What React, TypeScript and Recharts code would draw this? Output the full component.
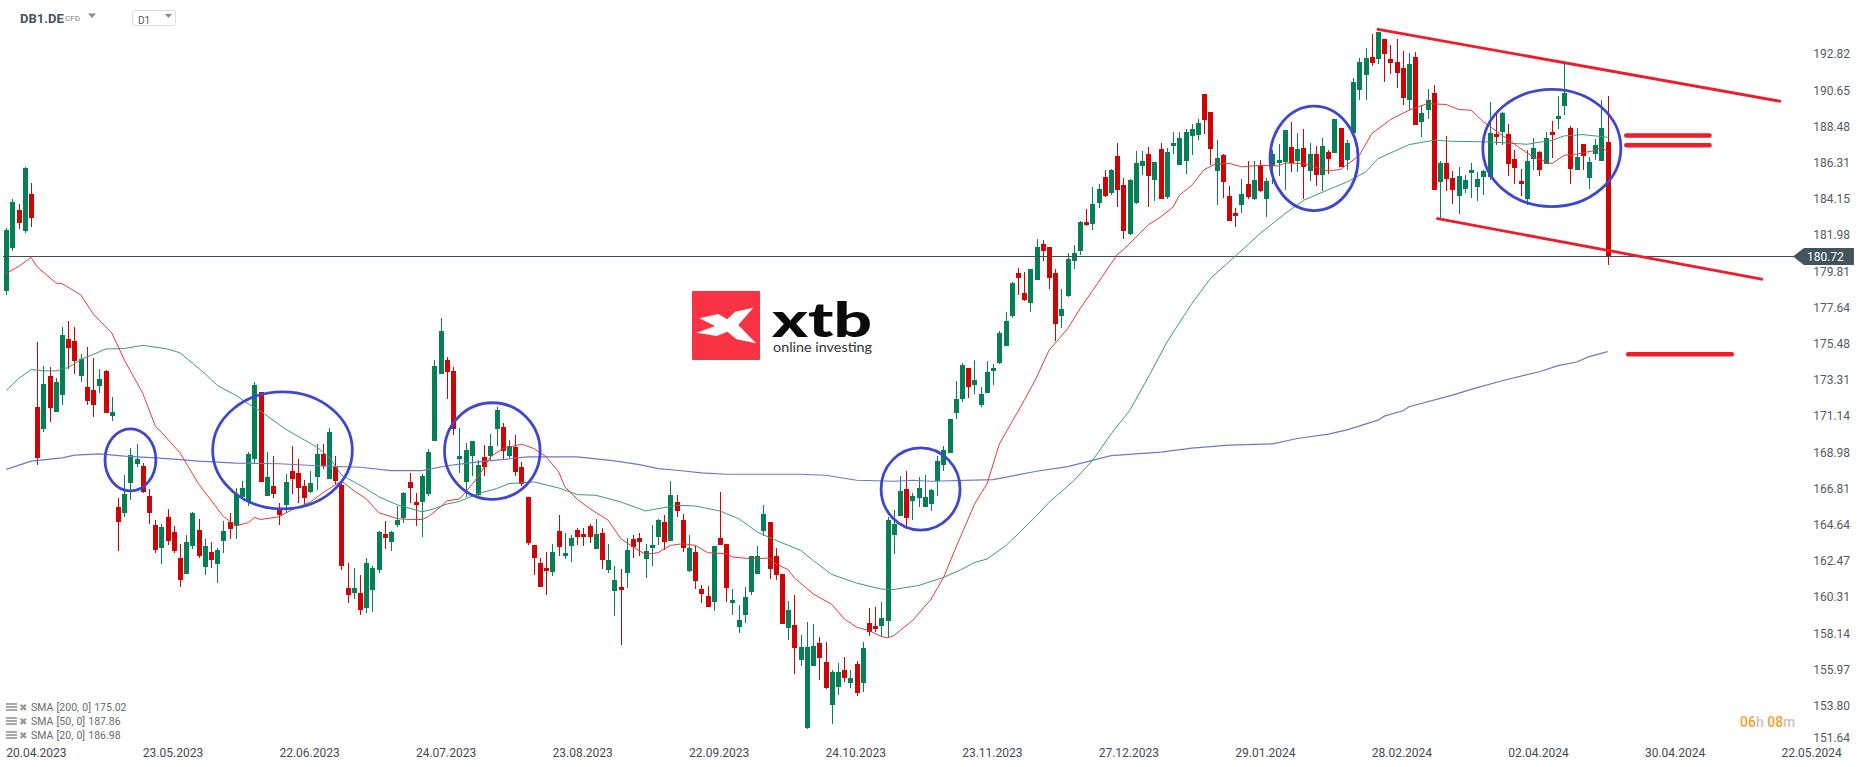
import React from "react";
import { ComposedChart, Bar, Line, XAxis, YAxis, ReferenceLine, ReferenceDot } from "recharts";

type Candle = [number, number, number, number]; // open, high, low, close

const candlesA: Candle[] = [
[178.63,182.40,178.40,182.32],[181.20,184.18,181.04,183.99],[183.49,183.87,182.35,182.73],[182.23,186.08,182.11,186.04],[184.47,185.13,182.51,183.04],
[171.73,175.61,168.23,168.64],[170.38,174.16,170.21,173.09],[173.57,174.11,170.80,171.64],[171.40,173.47,171.40,173.21],[172.42,176.52,171.85,176.04],
[175.80,176.85,174.00,175.26],[175.68,176.52,173.68,174.47],[173.57,174.90,173.21,174.56],[172.90,175.30,171.85,172.09],[172.73,174.66,171.09,171.83],
[172.97,174.00,172.57,173.40],[173.87,173.90,171.35,171.35],[171.16,172.30,170.85,171.40],[165.69,166.28,163.09,164.83],[165.33,167.62,165.09,166.47],
[167.14,169.23,166.16,168.81],[168.28,169.47,168.12,168.57]];
const candlesB: Candle[] = [
[168.16,168.33,166.54,166.62],[166.35,166.81,164.71,165.33],[164.66,164.97,162.95,163.17],[163.28,164.71,162.33,164.55],[165.14,165.57,163.43,163.69],
[164.24,164.59,162.95,163.09],[162.66,163.52,160.90,161.36],[161.71,164.07,161.71,163.64],[163.40,165.43,163.19,165.38],[164.35,165.02,162.69,162.78],
[162.14,163.81,161.67,163.40],[163.05,163.64,162.09,162.55],[162.31,163.28,161.14,163.17],[163.69,164.88,162.95,164.31],[164.83,165.33,163.81,164.43],
[164.59,166.85,163.81,166.47],[166.33,167.28,166.26,166.83],[166.04,169.04,165.76,168.92],[168.57,173.18,168.31,173.02],[172.59,172.59,167.19,167.19],
[166.40,168.99,166.40,167.50],[167.00,168.80,166.28,166.47]];
const candlesC: Candle[] = [
[165.62,165.97,164.62,165.24],[165.85,167.71,165.38,167.19],[167.90,169.35,166.52,167.42],[167.78,168.57,165.93,166.83],[166.95,167.33,165.69,166.28],
[166.62,167.90,166.54,167.14],[167.54,169.52,166.76,168.92],[168.88,169.52,167.97,168.19],[167.38,170.47,167.38,170.21],[168.09,168.76,167.09,167.28],
[167.04,167.28,161.97,162.19],[160.86,162.38,159.98,160.45],[160.57,162.07,160.21,160.86],[160.57,161.64,159.24,159.55],[159.69,162.66,159.40,162.38],
[160.74,162.19,159.43,162.07],[161.95,164.31,161.74,164.24],[164.12,164.90,163.19,163.88],[163.64,164.31,163.09,164.24],[164.66,165.78,164.50,164.95],
[165.04,166.59,164.74,166.57],[167.19,167.73,165.97,166.88]];
const candlesD: Candle[] = [
[166.04,166.57,164.59,165.85],[166.04,167.71,163.93,167.59],[166.52,169.21,166.35,169.04],[169.66,174.52,169.66,174.16],[173.68,177.06,173.68,176.28],
[174.54,174.71,172.19,173.80],[173.87,174.09,170.02,170.38],[168.57,170.45,167.76,168.76],[167.22,169.54,166.32,169.12],[168.78,169.66,167.58,169.66],
[166.46,168.56,166.32,168.22],[168.70,169.42,167.58,168.12],[168.76,170.12,168.56,169.36],[170.38,171.68,169.36,171.52],[170.50,170.72,168.58,169.06],
[168.76,169.72,168.68,169.36],[169.30,170.02,167.58,167.80],[168.10,168.44,166.96,167.10],[166.30,166.32,163.42,163.56],[163.42,163.42,161.62,162.66],
[162.34,162.66,160.92,160.92],[162.04,163.02,160.42,161.86]];
const candlesE: Candle[] = [
[161.80,163.48,161.56,163.00],[164.26,165.22,162.76,163.30],[162.76,164.14,162.58,162.94],[163.36,164.02,162.40,163.84],[164.32,164.44,163.42,163.90],
[164.08,164.44,163.36,163.90],[164.56,164.68,163.54,163.90],[163.18,164.98,163.18,164.08],[164.14,164.44,161.98,162.52],[161.92,163.48,161.74,162.52],
[160.66,162.16,159.22,161.32],[160.90,161.98,157.48,160.72],[161.74,163.84,160.84,163.12],[163.78,164.02,162.64,163.30],[163.84,164.14,162.76,163.60],
[162.58,163.48,161.44,163.06],[163.24,164.62,162.16,163.42],[163.90,164.98,163.42,164.92],[164.80,165.22,163.12,163.60],[163.66,167.26,163.66,166.42],
[166.00,166.42,165.10,165.46],[164.92,165.28,163.00,163.24]];
const candlesF: Candle[] = [
[161.86,164.02,161.80,163.24],[163.00,163.36,160.78,161.26],[160.78,161.02,159.94,160.48],[160.36,160.96,159.76,159.76],[160.00,163.36,159.52,163.36],
[163.84,166.60,163.42,163.42],[163.48,163.52,160.00,160.84],[159.94,160.78,159.28,160.12],[158.56,159.88,158.20,158.98],[159.28,160.90,158.80,160.30],
[160.60,162.76,160.42,162.76],[161.68,163.36,161.68,162.76],[164.26,165.82,163.96,165.28],[164.80,164.80,161.38,161.98],[162.76,163.24,161.32,161.62],
[161.68,161.68,158.74,158.74],[158.50,160.06,157.78,159.58],[158.68,160.42,155.74,157.30],[156.58,158.08,156.22,157.36],[152.50,158.86,152.44,157.36],
[156.22,158.74,156.22,157.42],[157.60,157.96,155.38,156.70]];
const candlesG: Candle[] = [
[156.46,157.66,154.84,154.90],[153.88,155.98,152.74,155.86],[154.96,156.40,154.48,155.86],[155.98,156.76,155.26,155.50],[155.20,155.98,154.90,155.50],
[156.34,156.52,154.42,154.60],[155.20,157.66,154.66,157.30],[158.80,159.70,158.02,158.26],[158.62,159.76,158.26,158.44],[158.62,160.00,157.96,159.10],
[158.92,165.12,157.96,164.92],[164.02,165.52,162.88,164.68],[165.16,167.56,165.16,166.66],[166.78,167.86,164.38,165.04],[166.06,166.54,164.92,166.36],
[166.24,167.50,165.70,166.84],[165.70,167.62,165.70,166.30],[165.92,166.80,165.50,166.76],[167.26,168.80,166.40,168.50],[168.26,169.40,167.90,169.16],
[168.98,170.96,168.98,170.96],[171.32,173.24,170.96,172.16]];
const candlesH: Candle[] = [
[172.16,174.36,171.98,174.20],[174.02,174.02,172.22,172.88],[173.00,174.50,172.50,173.30],[171.80,172.88,171.68,172.46],[172.52,174.44,172.52,173.78],
[173.84,174.26,173.00,174.02],[174.32,176.24,174.26,176.12],[175.34,177.38,175.34,176.84],[177.14,179.18,177.02,179.12],[179.72,180.02,178.40,179.42],
[178.52,179.78,178.04,178.10],[177.92,179.96,177.38,179.96],[179.30,181.76,179.30,181.28],[181.46,181.70,180.44,181.04],[181.28,181.28,178.76,179.42],
[179.72,179.96,175.64,176.66],[177.14,178.76,176.42,177.56],[178.34,180.92,178.28,180.56],[180.44,181.40,179.96,180.92],[181.04,182.84,180.80,182.78],
[182.77,183.55,182.53,182.59],[182.65,184.87,182.29,183.85]];
const candlesI: Candle[] = [
[183.91,185.09,183.61,184.75],[185.47,185.89,184.27,184.33],[184.51,185.95,184.39,185.89],[186.73,187.51,183.67,184.69],[184.99,185.45,181.75,182.23],
[182.05,185.35,181.99,185.29],[183.91,187.03,183.85,186.31],[186.13,187.03,185.59,186.43],[186.85,187.27,183.67,185.53],[185.29,186.37,184.03,186.37],
[187.15,187.51,184.15,184.15],[184.27,187.21,184.15,186.97],[187.33,188.17,186.85,187.51],[186.19,188.17,186.19,187.81],[186.43,188.35,185.65,188.17],
[187.93,188.65,186.79,188.35],[187.99,188.95,187.69,188.71],[190.44,190.44,188.04,188.88],[189.36,189.36,186.18,187.14],[185.82,187.68,183.78,186.60],
[186.78,186.84,184.20,185.16],[184.32,184.92,182.82,182.82]];
const candlesJ: Candle[] = [
[183.30,183.60,182.46,183.12],[183.78,185.34,183.30,184.44],[185.04,186.42,184.14,184.26],[184.14,186.42,184.08,185.28],[186.18,186.48,184.56,184.62],
[184.14,185.40,183.06,185.22],[186.12,187.08,185.04,186.84],[186.30,187.44,185.52,186.48],[186.36,188.28,184.68,188.28],[187.26,188.76,185.76,186.30],
[186.42,188.10,185.76,187.14],[187.20,188.34,184.14,186.06],[185.82,187.50,185.22,186.84],[186.84,187.32,184.92,185.58],[185.58,187.80,184.62,187.32],
[186.96,187.08,185.64,186.54],[186.90,188.94,186.90,188.94],[188.40,188.40,186.06,186.06],[186.48,187.68,185.88,187.50],[188.10,191.40,188.10,191.16],
[190.68,192.60,190.08,192.36],[191.58,193.20,190.08,192.60]];
const candlesK: Candle[] = [
[192.66,194.04,192.12,192.30],[192.54,194.16,192.24,194.16],[193.74,193.74,191.16,192.84],[192.54,193.38,191.64,192.30],[192.36,193.74,190.80,191.70],
[192.00,193.02,189.78,190.20],[190.08,192.90,189.48,192.24],[192.66,192.96,188.58,188.58],[188.76,189.78,187.86,189.30],[189.48,190.74,188.94,190.08],
[190.50,190.98,184.68,184.68],[185.16,186.42,183.00,186.30],[186.30,187.92,184.62,185.34],[185.40,185.82,183.84,184.68],[184.32,186.06,183.24,185.52],
[184.74,185.58,184.50,185.28],[185.70,186.30,184.20,185.88],[184.86,185.76,184.02,185.34],[185.46,185.88,184.38,185.82],[185.46,189.96,185.28,188.10],
[188.04,189.42,187.38,187.86],[188.16,189.36,187.38,189.30]];
const candlesL: Candle[] = [
[188.04,188.64,185.52,186.24],[186.54,187.08,185.04,186.00],[185.22,185.94,184.32,185.04],[184.14,187.08,183.78,186.42],[186.54,187.80,185.88,187.20],
[186.96,187.02,185.52,185.88],[186.24,188.16,186.24,187.80],[188.16,188.82,186.60,187.98],[188.94,190.32,188.34,189.12],[189.72,192.24,189.18,190.50],
[188.40,188.52,185.04,185.94],[185.88,188.40,185.88,186.66],[187.44,187.44,185.88,186.72],[185.40,186.66,184.74,186.36],[186.84,187.74,186.48,187.38],
[186.42,190.08,186.42,188.40],[187.56,190.32,180.24,180.72]];

const sma20Points: [number, number][] = [
[0,179.71],[2,180.13],[4,180.66],[5,180.09],[8,179.13],[9,179.09],[12,178.42],[14,177.28],[16,176.52],[17,176.14],[19,174.54],[22,172.52],[24,170.57],[25,170.19],[28,168.95],[31,167.09],[35,165.14],[37,164.59],[39,164.78],[40,165.09],[41,164.97],[44,165.14],[46,165.55],[49,166.02],[51,166.57],[54,167.28],[56,166.69],[58,166.21],[60,165.38],[63,165.02],[65,164.97],[67,164.97],[68,165.14],[70,165.74],[71,166.09],[73,166.2],[74,166.6],[76,167.52],[78,168.72],[80,169.22],[83,169.48],[85,169.22],[87,168.72],[89,167.82],[90,166.92],[92,166.18],[94,165.62],[97,164.92],[99,163.82],[101,163.32],[103,162.88],[105,162.98],[107,163.42],[109,163.52],[111,163.42],[113,162.98],[116,162.92],[117,162.72],[120,162.62],[123,162.66],[124,162.32],[126,161.96],[127,161.46],[130,160.52],[133,159.88],[135,159.02],[137,158.52],[139,158.32],[141,157.96],[142,157.88],[143,158.02],[146,158.92],[149,160.2],[151,161.5],[153,163.3],[156,165.9],[158,167.1],[160,169.5],[164,172.1],[166,173.5],[168,175.1],[171,176.4],[173,177.6],[176,179.2],[179,180.85],[180,181.13],[184,182.62],[186,183.09],[188,183.69],[189,184.39],[191,184.99],[193,185.93],[195,186.29],[197,186.3],[199,186.09],[202,186.18],[205,186.14],[206,186.32],[209,186.28],[213,185.84],[215,185.94],[218,186.78],[220,188.08],[223,188.92],[226,189.48],[229,189.88],[232,189.82],[234,189.52],[236,189.48],[238,188.78],[241,187.98],[244,187.18],[246,186.68],[249,186.28],[251,186.78],[253,186.84],[256,187.08],[257,187.28],[258,186.98]];
const sma50Points: [number, number][] = [
[0,172.71],[2,173.42],[4,173.95],[6,173.87],[8,173.87],[10,174.07],[12,174.54],[14,174.85],[16,175.18],[19,175.21],[22,175.40],[26,175.18],[28,174.95],[32,173.71],[34,173.0],[37,172.40],[39,171.90],[41,171.45],[45,170.38],[50,169.31],[52,168.71],[54,167.64],[58,166.81],[60,166.33],[63,165.85],[67,165.43],[69,165.62],[71,165.90],[73,166.05],[76,166.52],[79,166.82],[81,167.12],[85,167.22],[89,166.86],[92,166.46],[95,166.42],[99,166.02],[103,165.48],[108,165.82],[111,165.78],[115,165.48],[118,165.02],[121,164.22],[124,163.72],[128,163.12],[130,162.52],[133,161.68],[137,161.16],[141,160.80],[143,160.78],[147,161.02],[151,161.50],[154,162.0],[156,162.40],[158,162.60],[161,163.40],[163,164.10],[166,165.20],[168,166.0],[172,167.30],[175,168.50],[178,170.10],[181,171.50],[184,173.50],[187,175.60],[191,177.90],[194,179.40],[198,180.74],[202,182.10],[206,183.28],[209,184.08],[214,184.88],[216,185.18],[219,185.78],[221,186.58],[226,187.42],[230,187.68],[233,187.62],[239,187.58],[245,187.44],[249,187.68],[251,187.94],[254,188.02],[258,187.86]];
const sma200Points: [number, number][] = [
[0,167.97],[4,168.47],[9,168.66],[11,168.83],[15,168.90],[19,168.76],[24,168.66],[27,168.59],[31,168.47],[37,168.35],[44,168.31],[50,168.19],[57,168.10],[62,167.90],[67,167.90],[71,168.19],[75,168.38],[79,168.52],[84,168.72],[92,168.72],[98,168.48],[102,168.26],[105,168.02],[108,167.92],[112,167.76],[116,167.68],[128,167.68],[132,167.62],[137,167.32],[143,167.26],[146,167.32],[149,167.26],[159,167.36],[166,167.86],[171,168.14],[178,168.80],[186,169.0],[191,169.24],[197,169.42],[204,169.50],[208,169.82],[213,170.08],[216,170.34],[221,170.92],[222,171.16],[225,171.48],[226,171.72],[233,172.42],[236,172.76],[241,173.28],[247,173.82],[250,174.18],[253,174.40],[255,174.72],[258,175.02]];

const priceTicks = [192.82,190.65,188.48,186.31,184.15,181.98,179.81,177.64,175.48,173.31,171.14,168.98,166.81,164.64,162.47,160.31,158.14,155.97,153.80,151.64];
const dateLabels = ["20.04.2023","23.05.2023","22.06.2023","24.07.2023","23.08.2023","22.09.2023","24.10.2023","23.11.2023","27.12.2023","29.01.2024","28.02.2024","02.04.2024","30.04.2024","22.05.2024"];
const DATE_STEP = 22;
const SLOT_COUNT = 290;
const lastPrice = 180.72;

const ellipses: [number, number, number, number][] = [ // centre slot, centre price, half-width in slots, half-height in price
  [20.0, 168.54, 4.1, 1.86],
  [44.5, 169.11, 11.25, 3.5],
  [78.3, 169.07, 7.7, 2.89],
  [147.3, 166.8, 6.36, 2.46],
  [210.7, 186.6, 7.09, 3.13],
  [249.0, 187.22, 11.12, 3.51],
];
const channelLines: [number, number, number, number][] = [
  [220.8, 194.33, 285.9, 190.01],
  [230.4, 183.0, 283.0, 179.35],
];
const targetLines: [number, number, number, number][] = [
  [261.0, 187.97, 274.4, 187.97],
  [261.0, 187.38, 274.4, 187.38],
  [261.3, 174.87, 278.0, 174.87],
];

const GREEN = "#047f56";
const RED = "#cf0404";
const allCandles = [...candlesA, ...candlesB, ...candlesC, ...candlesD, ...candlesE, ...candlesF, ...candlesG, ...candlesH, ...candlesI, ...candlesJ, ...candlesK, ...candlesL];
const lookup = (points: [number, number][]) => new Map(points.map(([s, v]) => [s, v]));
const s20 = lookup(sma20Points), s50 = lookup(sma50Points), s200 = lookup(sma200Points);

const table = Array.from({ length: SLOT_COUNT }, (_, slot) => {
  const c = allCandles[slot];
  return {
    slot,
    open: c ? c[0] : null,
    high: c ? c[1] : null,
    low: c ? c[2] : null,
    close: c ? c[3] : null,
    range: c ? [c[2], c[1]] : null,
    sma20: s20.get(slot) ?? null,
    sma50: s50.get(slot) ?? null,
    sma200: s200.get(slot) ?? null,
  };
});
const dateTicks = dateLabels.map((_, i) => i * DATE_STEP);

const CandleShape = (props: any) => {
  const { x, y, width, height, payload } = props;
  if (!payload || payload.open == null || payload.high === payload.low) return null;
  const k = height / (payload.high - payload.low);
  const up = payload.close >= payload.open;
  const color = up ? GREEN : RED;
  const top = y + (payload.high - Math.max(payload.open, payload.close)) * k;
  const bodyH = Math.max(1, Math.abs(payload.close - payload.open) * k);
  const bx = Math.round(x);
  return (
    <g shapeRendering="crispEdges">
      <rect x={bx + 2} y={y} width={1} height={height} fill={color} />
      <rect x={bx} y={top} width={5} height={bodyH} fill={color} />
    </g>
  );
};

const AXIS_FONT = "Roboto, sans-serif";
const PriceTick = (props: any) => {
  const { x, y, payload } = props;
  return (
    <text x={x} y={Math.min(y, 737.5)} dy={4} fontFamily={AXIS_FONT} fontSize={12} fill="#555b60" textAnchor="start">
      {Number(payload.value).toFixed(2)}
    </text>
  );
};
const DateTick = (props: any) => {
  const { x, y, payload } = props;
  return (
    <text x={x} y={y} dy={4} fontFamily={AXIS_FONT} fontSize={12} fill="#444a50" textAnchor="start">
      {dateLabels[payload.value / DATE_STEP]}
    </text>
  );
};
const PriceTag = (props: any) => {
  const { cx, cy } = props;
  return (
    <g>
      <polygon points={`${cx},${cy} ${cx + 11},${cy - 8.5} ${cx + 61},${cy - 8.5} ${cx + 61},${cy + 8.5} ${cx + 11},${cy + 8.5}`} fill="#44545f" />
      <text x={cx + 14} y={cy + 4.5} fontFamily={AXIS_FONT} fontSize={12} fill="#ffffff">{lastPrice.toFixed(2)}</text>
    </g>
  );
};
const makeEllipse = (rx: number, ry: number) => (props: any) => (
  <ellipse cx={props.cx} cy={props.cy} rx={rx} ry={ry} fill="none" stroke="#3f47cc" strokeWidth={2.8} />
);

const legendRows = [
  { text: "SMA [200, 0] 175.02", y: 711 },
  { text: "SMA [50, 0] 187.86", y: 725 },
  { text: "SMA [20, 0] 186.98", y: 739 },
];

const Overlay = () => (
  <svg width={1866} height={767} style={{ position: "absolute", left: 0, top: 0 }}>
    <rect x={692} y={291} width={68} height={69} rx={1} fill="#f93244" />
    <polygon points="699.3,318.3 718.3,314 727.3,319.3 735,311.7 753.3,307.7 738.3,325 756,343.3 736.7,339.3 727.3,331.7 716.7,336 696.7,332.7 715,326" fill="#ffffff" />
    <text x={772} y={337} fontFamily="Lato, sans-serif" fontWeight={900} fontSize={47} textLength={100} lengthAdjust="spacingAndGlyphs" fill="#0a0a0a">xtb</text>
    <text x={773} y={352} fontFamily="Lato, sans-serif" fontSize={14} textLength={99} lengthAdjust="spacingAndGlyphs" fill="#333333">online investing</text>

    <text x={20} y={23} fontFamily={AXIS_FONT} fontWeight={700} fontSize={13} fill="#45525d">DB1.DE</text>
    <text x={65} y={21} fontFamily={AXIS_FONT} fontSize={8} fill="#7a8288">CFD</text>
    <polygon points="88,13.5 96,13.5 92,18" fill="#888888" />
    <rect x={132.5} y={10.5} width={43} height={15} rx={2} fill="#ffffff" stroke="#dddddd" />
    <text x={138} y={24} fontFamily={AXIS_FONT} fontSize={10} fill="#555b60">D1</text>
    <polygon points="165,14 172,14 168.5,18" fill="#888888" />

    {legendRows.map((r) => (
      <g key={r.text}>
        <rect x={6} y={r.y - 8} width={11} height={2} fill="#a9a9a9" />
        <rect x={6} y={r.y - 5} width={11} height={2} fill="#a9a9a9" />
        <rect x={6} y={r.y - 2} width={11} height={2} fill="#a9a9a9" />
        <text x={19} y={r.y} fontFamily={AXIS_FONT} fontSize={9.5} fill="#9a9a9a">✖</text>
        <text x={31} y={r.y} fontFamily={AXIS_FONT} fontSize={10.5} wordSpacing={0.6} fill="#666b70">{r.text}</text>
      </g>
    ))}

    <text x={1740} y={727} fontFamily={AXIS_FONT} fontSize={14} fontWeight={500}>
      <tspan fill="#f6a02f">06</tspan><tspan fill="#c4c4c4">h </tspan><tspan fill="#f6a02f">08</tspan><tspan fill="#c4c4c4">m</tspan>
    </text>
  </svg>
);

export default function App() {
  return (
    <div style={{ position: "absolute", left: 0, top: 0, width: 1866, height: 767, background: "#ffffff" }}>
      <Overlay />
      <div style={{ position: "absolute", left: 0, top: 0 }}>
        <ComposedChart width={1866} height={767} data={table} margin={{ top: 0, right: 0, bottom: 0, left: 3.2 }} barSize={5}>
          <XAxis dataKey="slot" type="category" ticks={dateTicks} interval={0} tick={<DateTick />} tickLine={false} axisLine={false} height={24.4} tickMargin={4} />
          <XAxis xAxisId="pos" type="number" dataKey="slot" domain={[-0.5, SLOT_COUNT - 0.5]} hide allowDataOverflow />
          <YAxis orientation="right" type="number" domain={[151.61, 196.08]} ticks={priceTicks} interval={0} allowDataOverflow tick={<PriceTick />} tickLine={false} axisLine={false} width={62.8} tickMargin={4} />
          <ReferenceLine y={lastPrice} stroke="#3f4d59" strokeWidth={1} shapeRendering="crispEdges" />
          <Bar dataKey="range" shape={<CandleShape />} isAnimationActive={false} />
          <Line dataKey="sma200" stroke="#6f77c6" strokeWidth={1.2} dot={false} connectNulls isAnimationActive={false} />
          <Line dataKey="sma50" stroke="#3c9a79" strokeWidth={1} dot={false} connectNulls isAnimationActive={false} />
          <Line dataKey="sma20" stroke="#e23b3b" strokeWidth={1} dot={false} connectNulls isAnimationActive={false} />
          {channelLines.map((l, i) => (
            <ReferenceLine key={`c${i}`} xAxisId="pos" segment={[{ x: l[0], y: l[1] }, { x: l[2], y: l[3] }]} stroke="#ef1c2c" strokeWidth={2.8} ifOverflow="visible" />
          ))}
          {targetLines.map((l, i) => (
            <ReferenceLine key={`t${i}`} xAxisId="pos" segment={[{ x: l[0], y: l[1] }, { x: l[2], y: l[3] }]} stroke="#ef1c2c" strokeWidth={4.5} strokeLinecap="round" ifOverflow="visible" />
          ))}
          {ellipses.map((e, i) => (
            <ReferenceDot key={`e${i}`} xAxisId="pos" x={e[0]} y={e[1]} r={1} ifOverflow="visible" shape={makeEllipse(e[2] * 6.207, e[3] * 16.7)} />
          ))}
          <ReferenceDot xAxisId="pos" x={287.85} y={lastPrice} r={1} ifOverflow="visible" shape={PriceTag} />
        </ComposedChart>
      </div>
    </div>
  );
}
